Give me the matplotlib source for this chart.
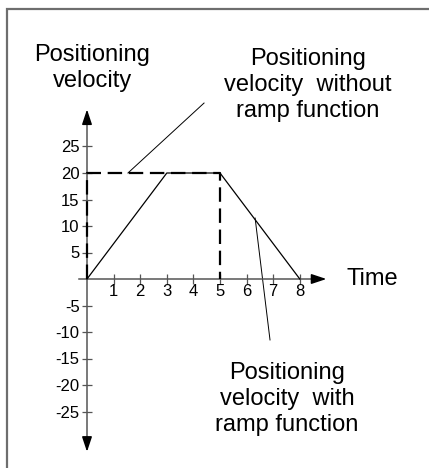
import matplotlib
matplotlib.use("Agg")
import matplotlib.pyplot as plt
from matplotlib.patches import Rectangle

plt.rcParams['font.family'] = ['Liberation Sans', 'DejaVu Sans']

# Data
ramp_t = [0, 3, 5, 8]
ramp_v = [0, 20, 20, 0]
noramp_t = [0, 0, 5, 5]
noramp_v = [0, 20, 20, 0]
xticks = [1, 2, 3, 4, 5, 6, 7, 8]
yticks = [-25, -20, -15, -10, -5, 5, 10, 15, 20, 25]
ylabels = [str(v) for v in yticks]
xlabels = [str(v) for v in xticks]

W, H = 429, 468
fig = plt.figure(figsize=(W / 100, H / 100), dpi=100)
ax = fig.add_axes([0, 0, 1, 1])

# pixel mapping: x_px = 87 + 26.6*x ; y_px = 279 - 5.3*y
px_x = 26.6
px_y = 5.3
ax.set_xlim(-87 / px_x, (W - 87) / px_x)
ax.set_ylim((279 - H) / px_y, 279 / px_y)
ax.patch.set_visible(False)

# frame
fig.patches.append(Rectangle((6.5 / W, -0.1), 1.2, 1 - 8.5 / H + 0.1,
                             transform=fig.transFigure, fill=False,
                             edgecolor='#6e6e6e', linewidth=1.6, zorder=0))

axis_col = '#555555'
for s in ['top', 'right']:
    ax.spines[s].set_visible(False)
ax.spines['left'].set_position(('data', 0))
ax.spines['bottom'].set_position(('data', 0))
ax.spines['left'].set_bounds(-31.0, 30.5)
ax.spines['bottom'].set_bounds(-0.3, 8.6)
for s in ['left', 'bottom']:
    ax.spines[s].set_color(axis_col)
    ax.spines[s].set_linewidth(1.1)

ax.set_xticks(xticks)
ax.set_xticklabels(xlabels)
ax.set_yticks(yticks)
ax.set_yticklabels(ylabels)
ax.tick_params(axis='both', direction='inout', length=6.5, width=0.9,
               color=axis_col, labelsize=12, labelcolor='black')
ax.tick_params(axis='x', pad=0.5)
ax.tick_params(axis='y', pad=2)

# arrow heads
arrow_kw = dict(arrowstyle='-|>,head_length=0.9,head_width=0.3',
                color='black', lw=1.1, shrinkA=0, shrinkB=0)
ax.annotate('', xy=(0, 32.0), xytext=(0, 29.5), arrowprops=arrow_kw)
ax.annotate('', xy=(0, -32.6), xytext=(0, -30.0), arrowprops=arrow_kw)
ax.annotate('', xy=(9.0, 0), xytext=(8.5, 0), arrowprops=arrow_kw)

# curves
ax.plot(noramp_t, noramp_v, color='black', lw=1.6, dashes=(6.5, 3), zorder=3)
ax.plot(ramp_t, ramp_v, color='black', lw=0.9, zorder=3)

# annotation leader lines
ax.plot([1.54, 4.4], [20, 33.2], color='black', lw=0.7)
ax.plot([6.32, 6.88], [11.5, -11.5], color='black', lw=0.7)

fs = 17
ls = 1.22
ax.text(0.19, 39.8, 'Positioning\nvelocity', ha='center', va='center',
        fontsize=fs, linespacing=ls)
ax.text(8.31, 36.6, 'Positioning\nvelocity  without\nramp function',
        ha='center', va='center', fontsize=fs, linespacing=ls)
ax.text(7.52, -22.6, 'Positioning\nvelocity  with\nramp function',
        ha='center', va='center', fontsize=fs, linespacing=ls)
ax.text(9.77, 0, 'Time', ha='left', va='center', fontsize=fs)

fig.savefig('out.png', dpi=100)
